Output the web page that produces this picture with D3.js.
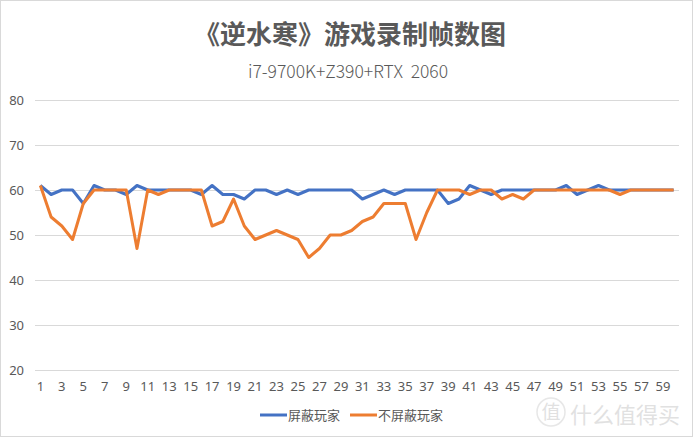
<!DOCTYPE html>
<html>
<head>
<meta charset="utf-8">
<script src="https://cdn.jsdelivr.net/npm/d3@7"></script>
<style>
  body { margin: 0; background: #fff; }
  text { font-family: "Noto Sans CJK SC", "Noto Sans", sans-serif; fill: #595959; }
</style>
</head>
<body>
<script>
// Data
const frames = d3.range(1, 61);
const shielded = [61, 59, 60, 60, 57, 61, 60, 60, 59, 61, 60, 60, 60, 60, 60, 59, 61, 59, 59, 58,
                  60, 60, 59, 60, 59, 60, 60, 60, 60, 60, 58, 59, 60, 59, 60, 60, 60, 60, 57, 58,
                  61, 60, 59, 60, 60, 60, 60, 60, 60, 61, 59, 60, 61, 60, 60, 60, 60, 60, 60, 60];
const unshielded = [61, 54, 52, 49, 57, 60, 60, 60, 60, 47, 60, 59, 60, 60, 60, 60, 52, 53, 58, 52,
                    49, 50, 51, 50, 49, 45, 47, 50, 50, 51, 53, 54, 57, 57, 57, 49, 55, 60, 60, 60,
                    59, 60, 60, 58, 59, 58, 60, 60, 60, 60, 60, 60, 60, 60, 59, 60, 60, 60, 60, 60];
const yTicks = [20, 30, 40, 50, 60, 70, 80];
const seriesNames = ['屏蔽玩家', '不屏蔽玩家'];
const colors = ['#4472C4', '#ED7D31'];

const width = 695, height = 437;
const margin = { top: 100, bottom: 67, left: 35, right: 16 };

const svg = d3.select('body')
            .append('svg')
            .attr('width', width)
            .attr('height', height);

// outer border
svg.append('rect')
  .attr('x', 0.5).attr('y', 0.5)
  .attr('width', width - 3).attr('height', height - 1)
  .attr('fill', '#fff')
  .attr('stroke', '#d9d9d9');

// titles
svg.append('text')
  .text('《逆水寒》游戏录制帧数图')
  .attr('x', 350).attr('y', 44)
  .attr('text-anchor', 'middle')
  .style('font-size', '26px')
  .style('font-weight', 'bold');

svg.append('text')
  .text('i7-9700K+Z390+RTX\u00a0\u00a02060')
  .attr('x', 348).attr('y', 78)
  .attr('text-anchor', 'middle')
  .style('font-size', '17.5px')
  .style('font-weight', 300);

// scales
const xscale = d3.scaleBand()
                .domain(frames)
                .range([margin.left, width - margin.right]);

const yscale = d3.scaleLinear()
                .domain([20, 80])
                .range([height - margin.bottom, margin.top]);

// grid + y labels
const yaxis = svg.append('g')
              .attr('transform', `translate(${margin.left}, 0)`)
              .call(d3.axisLeft(yscale)
                    .tickValues(yTicks)
                    .tickSize(-(width - margin.left - margin.right))
                    .tickPadding(11));
yaxis.select('.domain').remove();
yaxis.selectAll('line').attr('stroke', '#d9d9d9');
yaxis.selectAll('text').style('font-size', '13px').style('fill', '#595959')
  .style('font-family', '"Noto Sans", sans-serif');

// x labels (odd frames)
const xaxis = svg.append('g')
              .attr('transform', `translate(0, ${height - margin.bottom})`)
              .call(d3.axisBottom(xscale)
                    .tickValues(frames.filter(d => d % 2 === 1))
                    .tickSize(0)
                    .tickPadding(12));
xaxis.select('.domain').remove();
xaxis.selectAll('text').style('font-size', '13px').style('fill', '#595959')
  .style('font-family', '"Noto Sans", sans-serif');

// lines
const line = d3.line()
  .x((d, i) => xscale(frames[i]) + xscale.bandwidth() / 2)
  .y(d => yscale(d));

[shielded, unshielded].forEach((s, k) => {
  svg.append('path')
    .datum(s)
    .attr('d', line)
    .attr('fill', 'none')
    .attr('stroke', colors[k])
    .attr('stroke-width', 3)
    .attr('stroke-linejoin', 'round');
});

// legend
const legendX = [260, 350];
seriesNames.forEach((name, k) => {
  const g = svg.append('g').attr('transform', `translate(${legendX[k]}, 415)`);
  g.append('line')
    .attr('x1', 0).attr('x2', 27)
    .attr('stroke', colors[k]).attr('stroke-width', 3);
  g.append('text')
    .text(name)
    .attr('x', 28).attr('y', 4.5)
    .style('font-size', '13px');
});

// watermark
const wm = svg.append('g').attr('opacity', 0.35);
wm.append('circle')
  .attr('cx', 551).attr('cy', 412).attr('r', 14)
  .attr('fill', 'none').attr('stroke', '#bbb').attr('stroke-width', 1.5);
wm.append('text')
  .text('值')
  .attr('x', 551).attr('y', 419)
  .attr('text-anchor', 'middle')
  .style('font-size', '19px')
  .style('fill', '#aaa');
wm.append('text')
  .text('什么值得买')
  .attr('x', 570).attr('y', 423)
  .style('font-size', '22px')
  .style('fill', '#aaa');
</script>
</body>
</html>
